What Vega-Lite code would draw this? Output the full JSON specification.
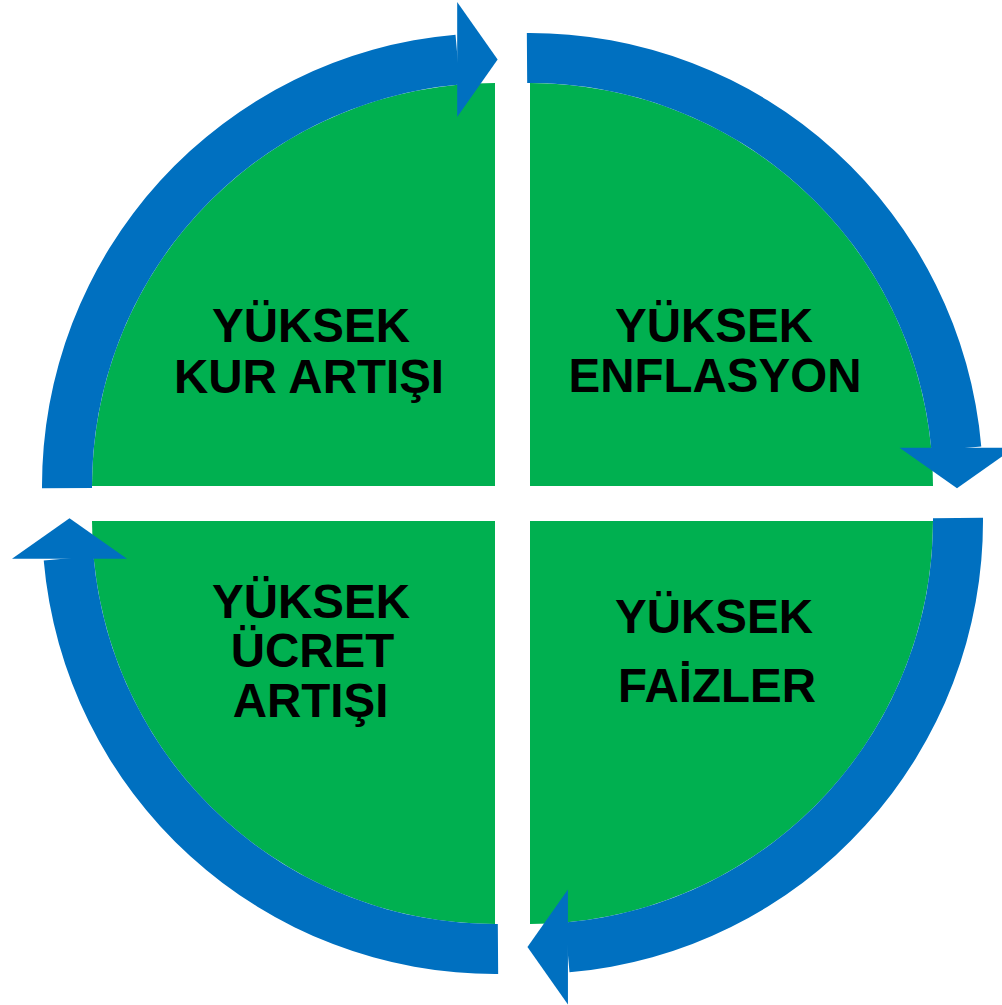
{
  "$schema": "https://vega.github.io/schema/vega-lite/v6.json",
  "width": 1002,
  "height": 1005,
  "autosize": {"type": "fit", "contains": "padding"},
  "padding": 0,
  "background": "white",
  "config": {"view": {"stroke": null}},
  "datasets": {
    "quadrants": [
      {"q": "TL", "cx": 495, "cy": 486, "t0": 270, "t1": 360, "r0": 0, "r1": 403},
      {"q": "TR", "cx": 530, "cy": 486, "t0": 0, "t1": 90, "r0": 0, "r1": 403},
      {"q": "BR", "cx": 530, "cy": 521, "t0": 90, "t1": 180, "r0": 0, "r1": 403},
      {"q": "BL", "cx": 495, "cy": 521, "t0": 180, "t1": 270, "r0": 0, "r1": 403}
    ],
    "arcs": [
      {"q": "TL", "cx": 495, "cy": 486, "t0": 269.7, "t1": 355.0, "r0": 403, "r1": 453},
      {"q": "TR", "cx": 530, "cy": 486, "t0": -0.4, "t1": 85.0, "r0": 403, "r1": 453},
      {"q": "BR", "cx": 530, "cy": 521, "t0": 89.6, "t1": 175.0, "r0": 403, "r1": 453},
      {"q": "BL", "cx": 495, "cy": 521, "t0": 179.6, "t1": 265.0, "r0": 403, "r1": 453}
    ],
    "heads": [
      {"q": "TL", "hx": 477.4, "hy": 59.5, "heading": 0},
      {"q": "TR", "hx": 957, "hy": 468, "heading": 90},
      {"q": "BR", "hx": 547.7, "hy": 947, "heading": 180},
      {"q": "BL", "hx": 69.5, "hy": 538.5, "heading": 270}
    ],
    "labels": [
      {"label": "YÜKSEK", "lx": 311, "ly": 341.7},
      {"label": "KUR ARTIŞI", "lx": 309, "ly": 393.3},
      {"label": "YÜKSEK", "lx": 714, "ly": 342},
      {"label": "ENFLASYON", "lx": 715, "ly": 392},
      {"label": "YÜKSEK", "lx": 714, "ly": 633.3},
      {"label": "FAİZLER", "lx": 717, "ly": 701.7},
      {"label": "YÜKSEK", "lx": 311, "ly": 618.3},
      {"label": "ÜCRET", "lx": 312.5, "ly": 667.3},
      {"label": "ARTIŞI", "lx": 310.5, "ly": 716.7}
    ]
  },
  "layer": [
    {
      "data": {"name": "quadrants"},
      "mark": {"type": "arc", "color": "#00B050", "strokeWidth": 0},
      "encoding": {
        "x": {"field": "cx", "type": "quantitative", "scale": {"domain": [0, 1002], "range": [0, 1002], "nice": false, "zero": false}, "axis": null},
        "y": {"field": "cy", "type": "quantitative", "scale": {"domain": [0, 1005], "range": [0, 1005], "nice": false, "zero": false}, "axis": null},
        "theta": {"field": "t0", "type": "quantitative", "stack": null, "scale": {"type": "linear", "domain": [0, 360], "range": [0, 6.283185307179586], "nice": false, "zero": false}},
        "theta2": {"field": "t1"},
        "radius": {"field": "r0", "type": "quantitative", "scale": {"type": "linear", "domain": [0, 1000], "range": [0, 1000], "nice": false, "zero": false}},
        "radius2": {"field": "r1"}
      }
    },
    {
      "data": {"name": "arcs"},
      "mark": {"type": "arc", "color": "#0070C0", "strokeWidth": 0},
      "encoding": {
        "x": {"field": "cx", "type": "quantitative", "scale": {"domain": [0, 1002], "range": [0, 1002], "nice": false, "zero": false}, "axis": null},
        "y": {"field": "cy", "type": "quantitative", "scale": {"domain": [0, 1005], "range": [0, 1005], "nice": false, "zero": false}, "axis": null},
        "theta": {"field": "t0", "type": "quantitative", "stack": null, "scale": {"type": "linear", "domain": [0, 360], "range": [0, 6.283185307179586], "nice": false, "zero": false}},
        "theta2": {"field": "t1"},
        "radius": {"field": "r0", "type": "quantitative", "scale": {"type": "linear", "domain": [0, 1000], "range": [0, 1000], "nice": false, "zero": false}},
        "radius2": {"field": "r1"}
      }
    },
    {
      "data": {"name": "heads"},
      "mark": {"type": "point", "filled": true, "opacity": 1, "color": "#0070C0", "strokeWidth": 0, "size": 13225, "shape": "M -0.352 -1 L 0.352 0 L -0.352 1 Z"},
      "encoding": {
        "x": {"field": "hx", "type": "quantitative", "scale": {"domain": [0, 1002], "range": [0, 1002], "nice": false, "zero": false}, "axis": null},
        "y": {"field": "hy", "type": "quantitative", "scale": {"domain": [0, 1005], "range": [0, 1005], "nice": false, "zero": false}, "axis": null},
        "angle": {"field": "heading", "type": "quantitative", "scale": {"domain": [0, 360], "range": [0, 360]}, "legend": null}
      }
    },
    {
      "data": {"name": "labels"},
      "mark": {"type": "text", "align": "center", "baseline": "alphabetic", "font": "Liberation Sans", "fontWeight": "bold", "fontSize": 47.5, "color": "#000000"},
      "encoding": {
        "x": {"field": "lx", "type": "quantitative", "scale": {"domain": [0, 1002], "range": [0, 1002], "nice": false, "zero": false}, "axis": null},
        "y": {"field": "ly", "type": "quantitative", "scale": {"domain": [0, 1005], "range": [0, 1005], "nice": false, "zero": false}, "axis": null},
        "text": {"field": "label", "type": "nominal"}
      }
    }
  ]
}
